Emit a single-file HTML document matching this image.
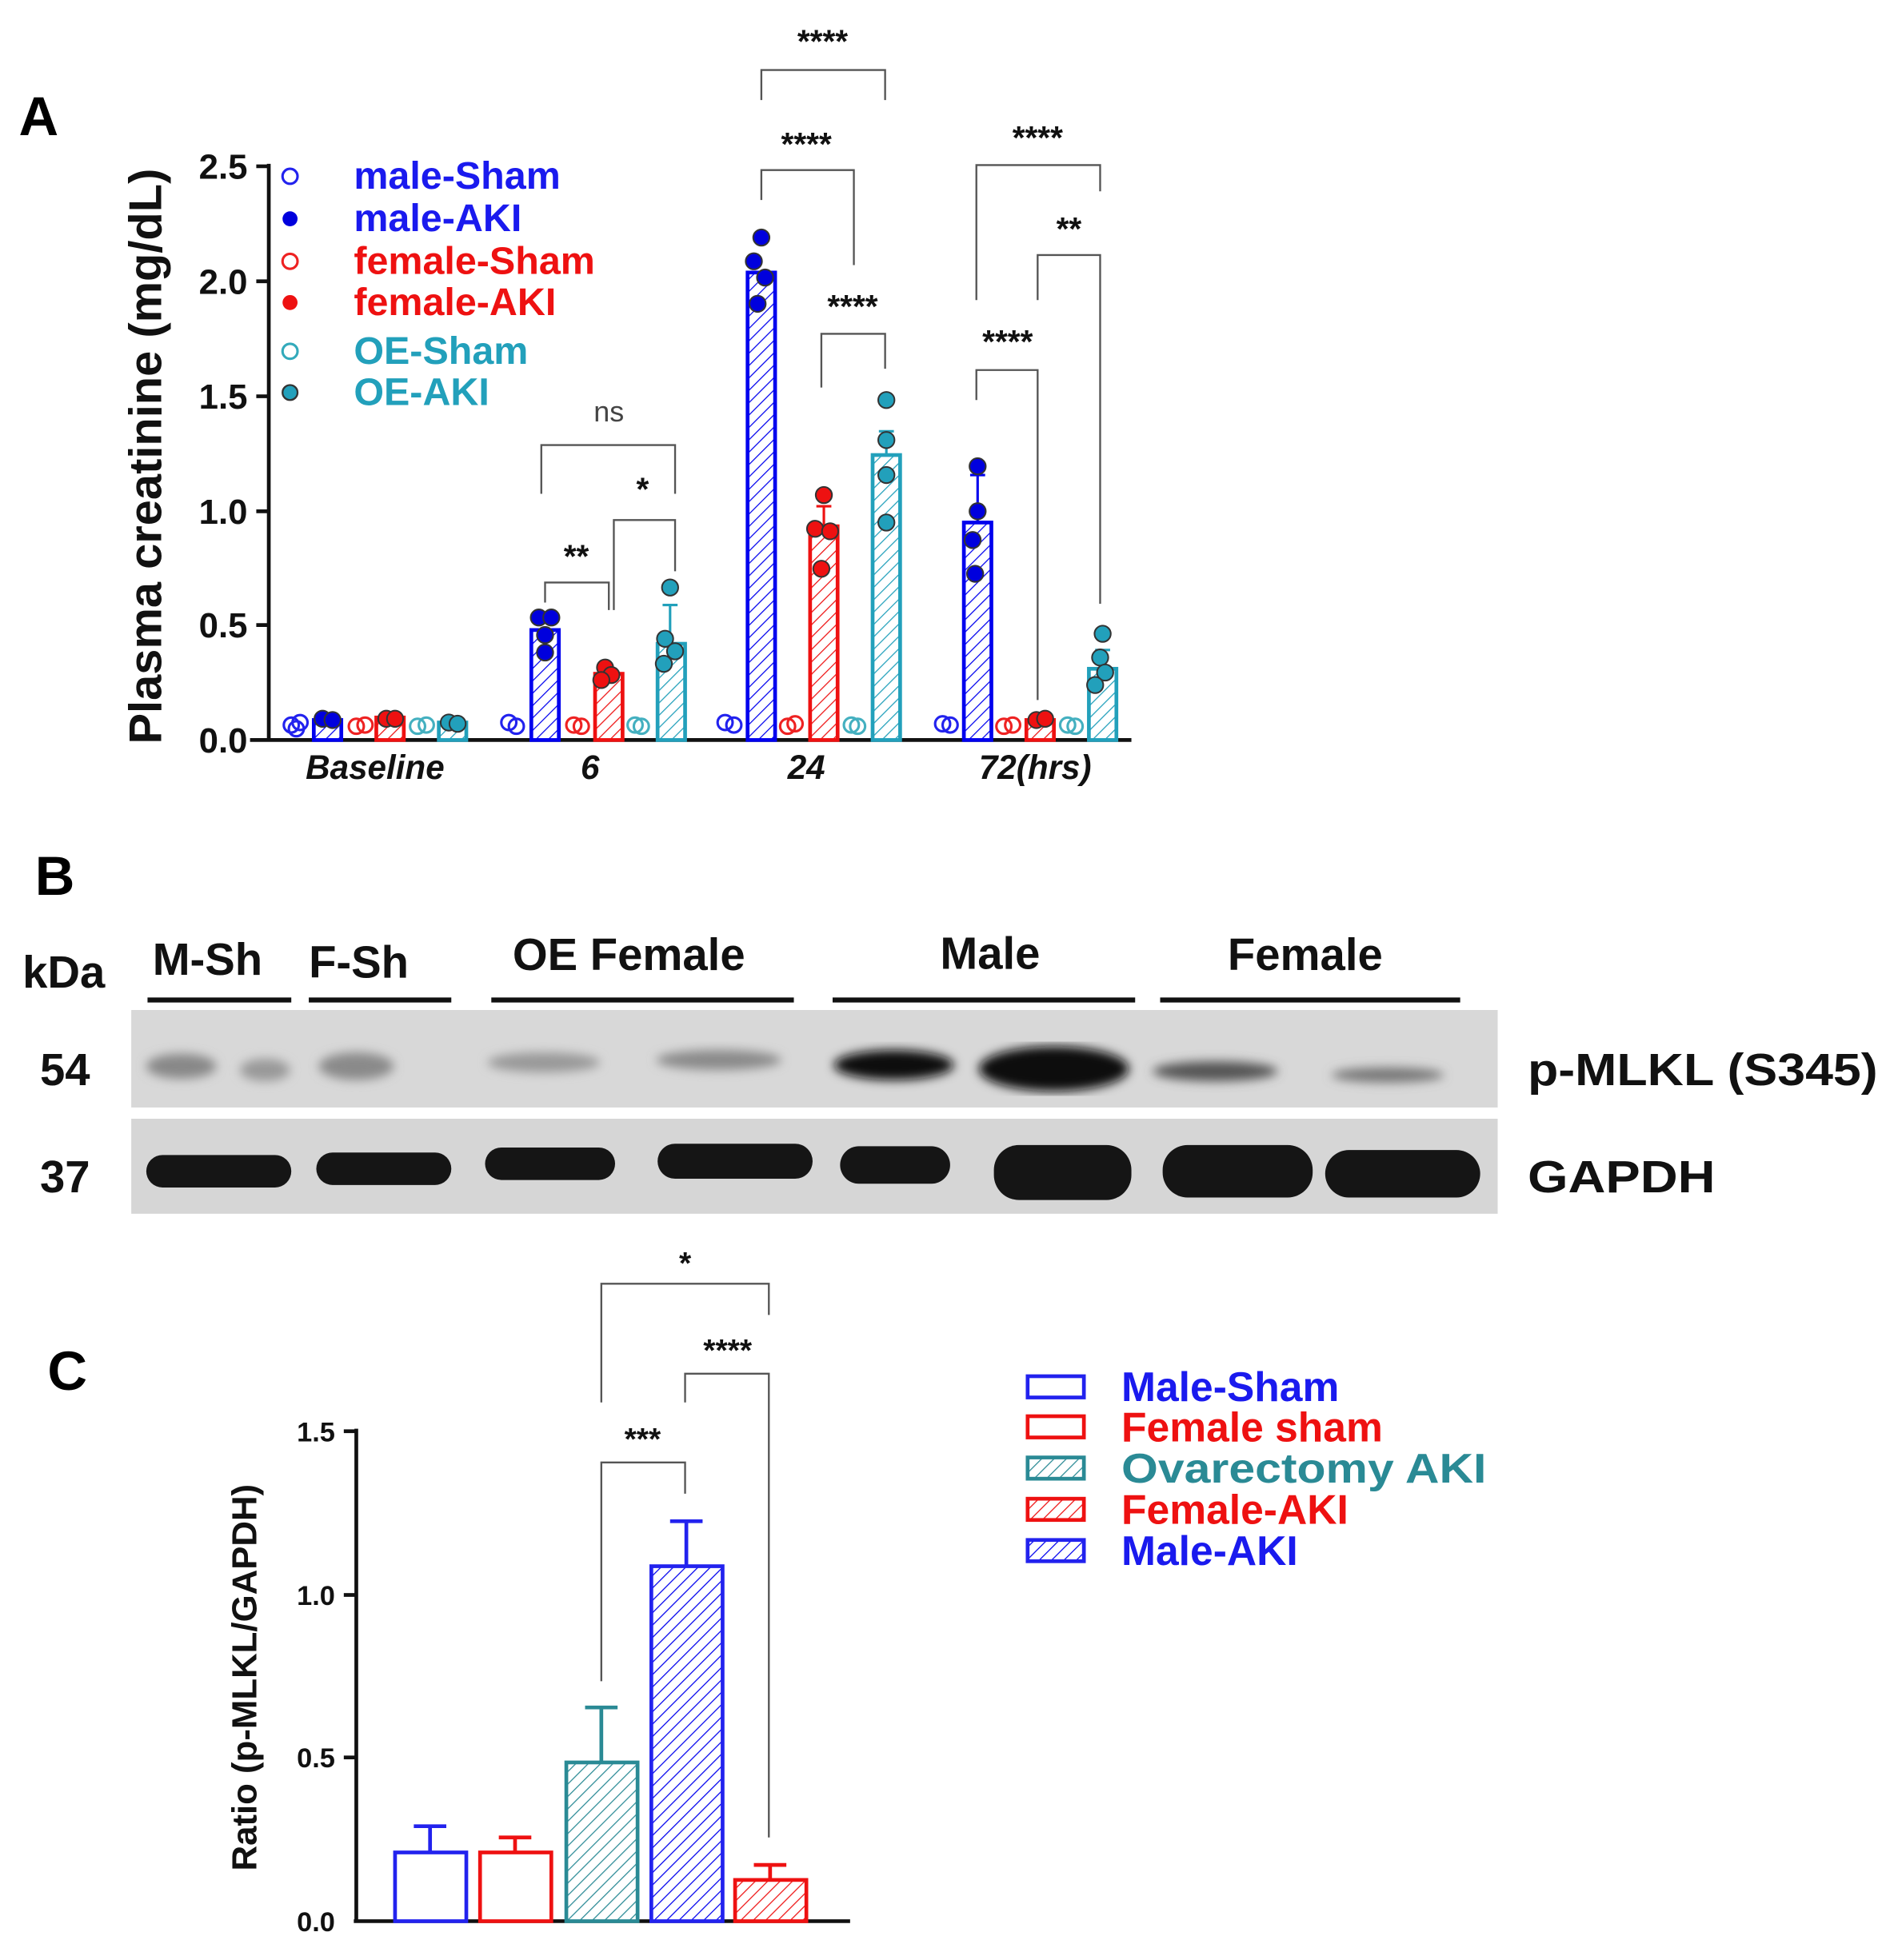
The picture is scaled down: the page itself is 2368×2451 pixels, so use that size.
<!DOCTYPE html>
<html><head><meta charset="utf-8"><style>html,body{margin:0;padding:0;background:#fff}svg{display:block}</style></head><body>
<svg width="2368" height="2451" viewBox="0 0 1515 1568" xmlns="http://www.w3.org/2000/svg" font-family="Liberation Sans, sans-serif" font-weight="bold">
<defs>
<pattern id="hb" width="7" height="7" patternUnits="userSpaceOnUse" patternTransform="rotate(45)"><rect width="7" height="7" fill="#fff"/><line x1="0" y1="0" x2="0" y2="7" stroke="#0000ee" stroke-width="1.6"/></pattern>
<pattern id="hr" width="7" height="7" patternUnits="userSpaceOnUse" patternTransform="rotate(45)"><rect width="7" height="7" fill="#fff"/><line x1="0" y1="0" x2="0" y2="7" stroke="#ee1111" stroke-width="1.6"/></pattern>
<pattern id="hc" width="7" height="7" patternUnits="userSpaceOnUse" patternTransform="rotate(45)"><rect width="7" height="7" fill="#fff"/><line x1="0" y1="0" x2="0" y2="7" stroke="#22a0bb" stroke-width="1.6"/></pattern>
<pattern id="hc2" width="7" height="7" patternUnits="userSpaceOnUse" patternTransform="rotate(45)"><rect width="7" height="7" fill="#fff"/><line x1="0" y1="0" x2="0" y2="7" stroke="#2a8a95" stroke-width="1.6"/></pattern>
<filter id="bl"><feGaussianBlur stdDeviation="4"/></filter>
</defs>

<!-- Panel A -->
<text x="15" y="108" font-size="44">A</text>
<text transform="translate(129,365) rotate(-90)" font-size="37" text-anchor="middle" fill="#111">Plasma creatinine (mg/dL)</text>
<g stroke="#111" stroke-width="3"><line x1="215" y1="131" x2="215" y2="593"/><line x1="200" y1="592" x2="905" y2="592"/>
<line x1="205" y1="133" x2="215" y2="133"/><line x1="205" y1="225" x2="215" y2="225"/><line x1="205" y1="317" x2="215" y2="317"/><line x1="205" y1="409" x2="215" y2="409"/><line x1="205" y1="500" x2="215" y2="500"/></g>
<g font-size="28" text-anchor="end" fill="#111"><text x="198" y="143">2.5</text><text x="198" y="235">2.0</text><text x="198" y="327">1.5</text><text x="198" y="419">1.0</text><text x="198" y="510">0.5</text><text x="198" y="602">0.0</text></g>
<g font-size="27" font-style="italic" text-anchor="middle" fill="#111"><text x="300" y="623">Baseline</text><text x="472" y="623">6</text><text x="645" y="623">24</text><text x="828" y="623">72(hrs)</text></g>
<g font-size="31">
<circle cx="232" cy="141" r="6" fill="none" stroke="#2222ee" stroke-width="2"/><text x="283" y="151" fill="#1a1aee">male-Sham</text>
<circle cx="232" cy="175" r="6" fill="#0000dd"/><text x="283" y="185" fill="#1a1aee">male-AKI</text>
<circle cx="232" cy="209" r="6" fill="none" stroke="#ee2222" stroke-width="2"/><text x="283" y="219" fill="#ee1111">female-Sham</text>
<circle cx="232" cy="242" r="6" fill="#ee1111"/><text x="283" y="252" fill="#ee1111">female-AKI</text>
<circle cx="232" cy="281" r="6" fill="none" stroke="#33aabb" stroke-width="2"/><text x="283" y="291" fill="#22a0bb">OE-Sham</text>
<circle cx="232" cy="314" r="6" fill="#22a0bb" stroke="#333" stroke-width="1.5"/><text x="283" y="324" fill="#22a0bb">OE-AKI</text>
</g>
<g stroke-width="3">
<rect x="251" y="576" width="22" height="16" fill="url(#hb)" stroke="#0000ee"/>
<rect x="301" y="574" width="22" height="18" fill="url(#hr)" stroke="#ee1111"/>
<rect x="351" y="578" width="22" height="14" fill="url(#hc)" stroke="#22a0bb"/>
<rect x="425" y="504" width="22" height="88" fill="url(#hb)" stroke="#0000ee"/>
<rect x="476" y="539" width="22" height="53" fill="url(#hr)" stroke="#ee1111"/>
<rect x="526" y="515" width="22" height="77" fill="url(#hc)" stroke="#22a0bb"/>
<rect x="598" y="218" width="22" height="374" fill="url(#hb)" stroke="#0000ee"/>
<rect x="648" y="421" width="22" height="171" fill="url(#hr)" stroke="#ee1111"/>
<rect x="698" y="364" width="22" height="228" fill="url(#hc)" stroke="#22a0bb"/>
<rect x="771" y="418" width="22" height="174" fill="url(#hb)" stroke="#0000ee"/>
<rect x="821" y="576" width="22" height="16" fill="url(#hr)" stroke="#ee1111"/>
<rect x="871" y="535" width="22" height="57" fill="url(#hc)" stroke="#22a0bb"/>
</g>
<g stroke-width="2" fill="none">
<path d="M536 515V484M530 484h12" stroke="#22a0bb"/>
<path d="M709 364V345M703 345h12" stroke="#22a0bb"/>
<path d="M782 418V380M776 380h12" stroke="#0000ee"/>
<path d="M659 421V405M653 405h12" stroke="#ee1111"/>
<path d="M882 535V520M876 520h12" stroke="#22a0bb"/>
</g>
<g fill="none" stroke-width="2">
<g stroke="#2222ee"><circle cx="233" cy="580" r="6"/><circle cx="240" cy="578" r="6"/><circle cx="237" cy="583" r="6"/><circle cx="407" cy="578" r="6"/><circle cx="413" cy="581" r="6"/><circle cx="580" cy="578" r="6"/><circle cx="587" cy="580" r="6"/><circle cx="754" cy="579" r="6"/><circle cx="760" cy="580" r="6"/></g>
<g stroke="#ee2222"><circle cx="285" cy="581" r="6"/><circle cx="292" cy="580" r="6"/><circle cx="459" cy="580" r="6"/><circle cx="465" cy="581" r="6"/><circle cx="630" cy="581" r="6"/><circle cx="636" cy="579" r="6"/><circle cx="803" cy="581" r="6"/><circle cx="810" cy="580" r="6"/></g>
<g stroke="#44b0c0"><circle cx="334" cy="581" r="6"/><circle cx="341" cy="580" r="6"/><circle cx="508" cy="580" r="6"/><circle cx="513" cy="581" r="6"/><circle cx="681" cy="580" r="6"/><circle cx="686" cy="581" r="6"/><circle cx="854" cy="580" r="6"/><circle cx="860" cy="581" r="6"/></g>
</g>
<g stroke="#333" stroke-width="1.3">
<g fill="#0000dd"><circle cx="258" cy="575" r="6.5"/><circle cx="266" cy="576" r="6.5"/><circle cx="431" cy="494" r="6.5"/><circle cx="441" cy="494" r="6.5"/><circle cx="436" cy="508" r="6.5"/><circle cx="436" cy="522" r="6.5"/>
<circle cx="609" cy="190" r="6.5"/><circle cx="603" cy="209" r="6.5"/><circle cx="612" cy="222" r="6.5"/><circle cx="606" cy="243" r="6.5"/>
<circle cx="782" cy="373" r="6.5"/><circle cx="782" cy="409" r="6.5"/><circle cx="778" cy="432" r="6.5"/><circle cx="780" cy="459" r="6.5"/></g>
<g fill="#ee1111"><circle cx="309" cy="575" r="6.5"/><circle cx="316" cy="575" r="6.5"/><circle cx="484" cy="534" r="6.5"/><circle cx="489" cy="540" r="6.5"/><circle cx="481" cy="544" r="6.5"/>
<circle cx="659" cy="396" r="6.5"/><circle cx="652" cy="423" r="6.5"/><circle cx="664" cy="425" r="6.5"/><circle cx="657" cy="455" r="6.5"/>
<circle cx="829" cy="576" r="6.5"/><circle cx="836" cy="575" r="6.5"/></g>
<g fill="#22a0bb"><circle cx="359" cy="578" r="6.5"/><circle cx="366" cy="579" r="6.5"/><circle cx="536" cy="470" r="6.5"/><circle cx="532" cy="511" r="6.5"/><circle cx="540" cy="521" r="6.5"/><circle cx="531" cy="531" r="6.5"/>
<circle cx="709" cy="320" r="6.5"/><circle cx="709" cy="352" r="6.5"/><circle cx="709" cy="380" r="6.5"/><circle cx="709" cy="418" r="6.5"/>
<circle cx="882" cy="507" r="6.5"/><circle cx="880" cy="526" r="6.5"/><circle cx="884" cy="538" r="6.5"/><circle cx="876" cy="548" r="6.5"/></g>
</g>
<g stroke="#555" stroke-width="1.5" fill="none">
<path d="M433 395V356H540V395"/><path d="M491 488V416H540V457"/><path d="M436 482V466H487V488"/>
<path d="M609 80V56H708V80"/><path d="M609 160V136H683V212"/><path d="M657 310V267H708V295"/>
<path d="M781 240V132H880V153"/><path d="M830 240V204H880V483"/><path d="M781 320V296H830V560"/>
</g>
<g font-size="26" text-anchor="middle" fill="#111">
<text x="487" y="337" font-weight="normal" font-size="23" fill="#444">ns</text><text x="514" y="400">*</text><text x="461" y="454">**</text>
<text x="658" y="42">****</text><text x="645" y="124">****</text><text x="682" y="254">****</text>
<text x="830" y="119">****</text><text x="855" y="192">**</text><text x="806" y="282">****</text>
</g>

<!-- Panel B -->
<text x="28" y="716" font-size="44">B</text>
<g font-size="36" fill="#111">
<text x="18" y="790">kDa</text>
<text x="122" y="780">M-Sh</text><text x="247" y="782">F-Sh</text><text x="410" y="776">OE Female</text><text x="752" y="775">Male</text><text x="982" y="776">Female</text>
<text x="32" y="868">54</text><text x="32" y="954">37</text>
<text x="1222" y="868" textLength="280" lengthAdjust="spacingAndGlyphs">p-MLKL (S345)</text><text x="1222" y="954" textLength="150" lengthAdjust="spacingAndGlyphs">GAPDH</text>
</g>
<g stroke="#111" stroke-width="4"><line x1="118" y1="800" x2="233" y2="800"/><line x1="247" y1="800" x2="361" y2="800"/><line x1="393" y1="800" x2="635" y2="800"/><line x1="666" y1="800" x2="908" y2="800"/><line x1="928" y1="800" x2="1168" y2="800"/></g>
<rect x="105" y="808" width="1093" height="78" fill="#d8d8d8"/>
<rect x="105" y="895" width="1093" height="76" fill="#d6d6d6"/>
<g filter="url(#bl)">
<ellipse cx="145" cy="853" rx="28" ry="10" fill="#888"/><ellipse cx="212" cy="856" rx="20" ry="9" fill="#999"/>
<ellipse cx="285" cy="853" rx="30" ry="11" fill="#8a8a8a"/><ellipse cx="435" cy="850" rx="45" ry="8" fill="#999"/><ellipse cx="575" cy="848" rx="50" ry="8" fill="#8a8a8a"/>
<ellipse cx="715" cy="852" rx="48" ry="12" fill="#111"/><ellipse cx="843" cy="855" rx="60" ry="18" fill="#080808"/>
<ellipse cx="972" cy="857" rx="50" ry="8" fill="#555"/><ellipse cx="1110" cy="860" rx="45" ry="6" fill="#777"/>
</g>
<g fill="#151515">
<rect x="117" y="924" width="116" height="26" rx="13"/><rect x="253" y="922" width="108" height="26" rx="13"/><rect x="388" y="918" width="104" height="26" rx="13"/><rect x="526" y="915" width="124" height="28" rx="14"/>
<rect x="672" y="917" width="88" height="30" rx="15"/><rect x="795" y="916" width="110" height="44" rx="20"/><rect x="930" y="916" width="120" height="42" rx="20"/><rect x="1060" y="920" width="124" height="38" rx="19"/>
</g>

<!-- Panel C -->
<text x="38" y="1112" font-size="44">C</text>
<text transform="translate(205,1342) rotate(-90)" font-size="28" text-anchor="middle" fill="#111">Ratio (p-MLKL/GAPDH)</text>
<g stroke="#111" stroke-width="3"><line x1="285" y1="1143" x2="285" y2="1538"/><line x1="283" y1="1537" x2="680" y2="1537"/>
<line x1="275" y1="1145" x2="285" y2="1145"/><line x1="275" y1="1276" x2="285" y2="1276"/><line x1="275" y1="1406" x2="285" y2="1406"/></g>
<g font-size="22" text-anchor="end" fill="#111"><text x="268" y="1153">1.5</text><text x="268" y="1284">1.0</text><text x="268" y="1414">0.5</text><text x="268" y="1545">0.0</text></g>
<g stroke-width="3">
<rect x="316" y="1482" width="57" height="55" fill="#fff" stroke="#2222ee"/>
<rect x="384" y="1482" width="57" height="55" fill="#fff" stroke="#ee1111"/>
<rect x="453" y="1410" width="57" height="127" fill="url(#hc2)" stroke="#2a8a95"/>
<rect x="521" y="1253" width="57" height="284" fill="url(#hb)" stroke="#2222ee"/>
<rect x="588" y="1504" width="57" height="33" fill="url(#hr)" stroke="#ee1111"/>
</g>
<g stroke-width="3" fill="none">
<path d="M344 1482V1461M331 1461h26" stroke="#2222ee"/>
<path d="M412 1482V1470M399 1470h26" stroke="#ee1111"/>
<path d="M481 1410V1366M468 1366h26" stroke="#2a8a95"/>
<path d="M549 1253V1217M536 1217h26" stroke="#2222ee"/>
<path d="M616 1504V1492M603 1492h26" stroke="#ee1111"/>
</g>
<g stroke="#555" stroke-width="1.5" fill="none">
<path d="M481 1122V1027H615V1052"/><path d="M548 1122V1099H615V1470"/><path d="M481 1345V1170H548V1195"/>
</g>
<g font-size="25" text-anchor="middle" fill="#111"><text x="548" y="1019">*</text><text x="582" y="1089">****</text><text x="514" y="1160">***</text></g>
<g stroke-width="3">
<rect x="822" y="1101" width="45" height="17" fill="#fff" stroke="#2222ee"/>
<rect x="822" y="1133" width="45" height="17" fill="#fff" stroke="#ee1111"/>
<rect x="822" y="1166" width="45" height="17" fill="url(#hc2)" stroke="#2a8a95"/>
<rect x="822" y="1199" width="45" height="17" fill="url(#hr)" stroke="#ee1111"/>
<rect x="822" y="1232" width="45" height="17" fill="url(#hb)" stroke="#2222ee"/>
</g>
<g font-size="33">
<text x="897" y="1121" fill="#1a1aee">Male-Sham</text>
<text x="897" y="1153" fill="#ee1111">Female sham</text>
<text x="897" y="1186" fill="#2a8a95" textLength="292" lengthAdjust="spacingAndGlyphs">Ovarectomy AKI</text>
<text x="897" y="1219" fill="#ee1111">Female-AKI</text>
<text x="897" y="1252" fill="#1a1aee">Male-AKI</text>
</g>
</svg>
</body></html>
